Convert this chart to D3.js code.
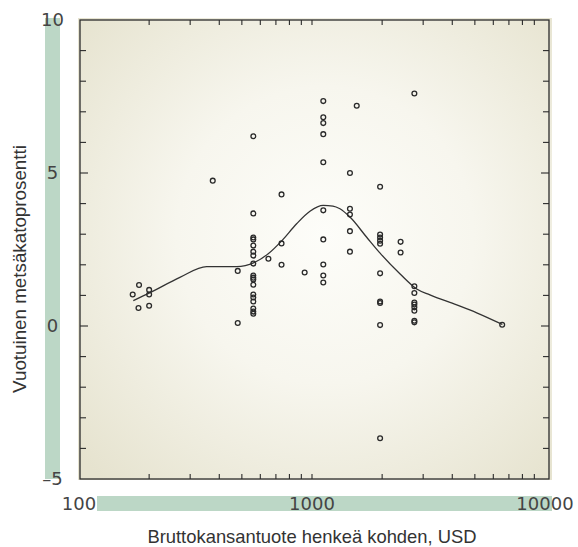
<!DOCTYPE html>
<html><head><meta charset="utf-8">
<script src="https://cdn.jsdelivr.net/npm/d3@7/dist/d3.min.js"></script>
<style>html,body{margin:0;padding:0;background:#fff;}svg{display:block;}</style>
</head><body><svg id="c" width="578" height="547"></svg>
<script>
// ---- data ----
const xTickLabels = [100, 1000, 10000];
const yTickLabels = [-5, 0, 5, 10];
const pointGdp = [170,181,200,200,180,200, 375, 480,480,
  560,560,560,560,560,560,560,560,560,560,560,560,560,560,560,560,560,560,
  650, 740,740,740, 930,
  1118,1118,1118,1118,1118,1118,1118,1118,1118,1118,
  1455,1455,1455,1455,1455, 1556,
  1960,1960,1960,1960,1960,1960,1960,1960,1960,1960,
  2400,2400,
  2750,2750,2750,2750,2750,2750,2750,2750,2750,
  6550];
const pointRate = [1.03,1.34,1.18,1.03,0.59,0.66, 4.75, 1.8,0.1,
  6.2,3.68,2.89,2.83,2.63,2.43,2.30,2.04,1.65,1.58,1.52,1.35,1.03,0.93,0.80,0.57,0.47,0.40,
  2.2, 4.3,2.7,2.0, 1.75,
  7.35,6.82,6.63,6.27,5.35,3.78,2.83,2.01,1.65,1.42,
  5.0,3.83,3.64,3.10,2.43, 7.2,
  4.55,2.99,2.89,2.79,2.69,1.72,0.80,0.75,0.03,-3.67,
  2.75,2.4,
  7.6,1.30,1.08,0.77,0.70,0.61,0.50,0.17,0.12,
  0.04];
const curveGdp  = [171,202,271,353,475,564,649,743,859,980,1117,1230,1318,1455,1717,1960,2389,2814,3207,4178,5093,6560];
const curveRate = [0.83,1.09,1.59,1.94,1.94,2.07,2.36,2.79,3.34,3.75,3.94,3.92,3.83,3.56,2.90,2.38,1.70,1.21,1.02,0.69,0.43,0.05];
const xTitle = "Bruttokansantuote henkeä kohden, USD";
const yTitle = "Vuotuinen metsäkatoprosentti";

// ---- layout ----
const svg = d3.select("#c");
const x = d3.scaleLog().domain([100, 10000]).range([79, 545]);
const y = d3.scaleLinear().domain([-5, 10]).range([479, 20]);
const frame = {l: 80, t: 20, r: 549, b: 479};
const green = "#bcd7c6";
const ink = "#2b2b2b";

const defs = svg.append("defs");
const rg = defs.append("radialGradient").attr("id","bg")
  .attr("gradientUnits","userSpaceOnUse").attr("cx",325).attr("cy",235).attr("r",330);
rg.append("stop").attr("offset","0").attr("stop-color","#fdfdf9");
rg.append("stop").attr("offset","0.45").attr("stop-color","#f7f6ee");
rg.append("stop").attr("offset","1").attr("stop-color","#e6e3cf");

// green bands
svg.append("rect").attr("x",45).attr("y",18).attr("width",15).attr("height",461).attr("fill",green);
svg.append("rect").attr("x",97).attr("y",496).attr("width",455).attr("height",15).attr("fill",green);

// plot background
svg.append("rect").attr("x",78).attr("y",18).attr("width",474).attr("height",462).attr("fill","url(#bg)");

// frame ticks
const g = svg.append("g").attr("stroke",ink).attr("stroke-width",1.1).attr("fill","none");
const yMinor = d3.range(-4, 10);
g.selectAll("line.yl").data(yMinor).join("line")
  .attr("x1",frame.l).attr("x2",d => frame.l + (d % 5 === 0 ? 8 : 6))
  .attr("y1",d=>y(d)).attr("y2",d=>y(d));
g.selectAll("line.yr").data(yMinor).join("line")
  .attr("x1",frame.r).attr("x2",d => frame.r - (d % 5 === 0 ? 8 : 6))
  .attr("y1",d=>y(d)).attr("y2",d=>y(d));
const xMinor = [];
[100,1000].forEach(b => { for (let k=2;k<=9;k++) xMinor.push(b*k); });
xMinor.push(1000);
g.selectAll("line.xt").data(xMinor).join("line")
  .attr("x1",d=>x(d)).attr("x2",d=>x(d)).attr("y1",frame.t).attr("y2",frame.t+5);
g.selectAll("line.xb").data(xMinor).join("line")
  .attr("x1",d=>x(d)).attr("x2",d=>x(d)).attr("y1",frame.b).attr("y2",frame.b-5);
g.append("rect").attr("x",frame.l).attr("y",frame.t)
  .attr("width",frame.r-frame.l).attr("height",frame.b-frame.t).attr("stroke-width",1.3);

// curve
const line = d3.line().x((d,i)=>x(curveGdp[i])).y((d,i)=>y(curveRate[i])).curve(d3.curveMonotoneX);
svg.append("path").attr("d", line(curveGdp)).attr("fill","none").attr("stroke","#333").attr("stroke-width",1.3);

// points
svg.append("g").selectAll("circle").data(pointGdp).join("circle")
  .attr("cx",(d)=>x(d)).attr("cy",(d,i)=>y(pointRate[i])).attr("r",2.4)
  .attr("fill","none").attr("stroke","#2a2a2a").attr("stroke-width",1.3);

// tick labels
const tf = "'DejaVu Sans', sans-serif";
svg.append("g").selectAll("text").data(yTickLabels).join("text")
  .attr("x",52.5).attr("y",d=>y(d)).attr("dy","0.36em").attr("text-anchor","middle")
  .attr("font-family",tf).attr("font-size",18).attr("fill","#444")
  .text(d => d < 0 ? "\u2013" + Math.abs(d) : d);
svg.append("g").selectAll("text").data(xTickLabels).join("text")
  .attr("x",d=>x(d)).attr("y",504).attr("dy","0.36em").attr("text-anchor","middle")
  .attr("font-family",tf).attr("font-size",18).attr("fill","#444")
  .text(d=>d);

// titles
svg.append("text").attr("x",312).attr("y",543).attr("text-anchor","middle")
  .attr("font-family","'Liberation Sans', Arial, sans-serif").attr("font-size",18.4).attr("fill","#333")
  .text(xTitle);
svg.append("text").attr("transform","translate(26,269) rotate(-90)").attr("text-anchor","middle")
  .attr("font-family","'Liberation Sans', Arial, sans-serif").attr("font-size",18.8).attr("fill","#333")
  .text(yTitle);
</script></body></html>
